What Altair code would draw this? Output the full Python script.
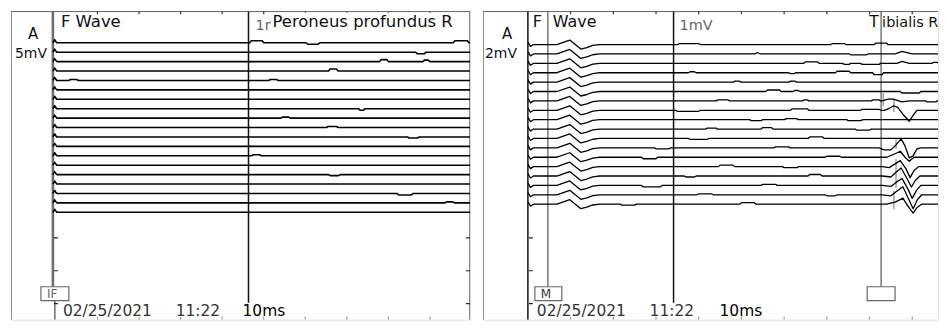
import altair as alt
import pandas as pd

# ---------------- layout ----------------
H = 309
L_W, R_W = 460, 456
L_PX_MS, R_PX_MS = 4.165, 4.28      # px per ms (10 ms / division)
ORIGIN = 45                          # px from panel edge to t = 0
L_DOMAIN = [-ORIGIN / L_PX_MS, (L_W - ORIGIN) / L_PX_MS]
R_DOMAIN = [-ORIGIN / R_PX_MS, (R_W - ORIGIN) / R_PX_MS]

# ---------------- data ----------------
L_TITLE = "Peroneus profundus R"
R_TITLE_A, R_TITLE_B = "T", "ibialis R"
DATE, CLOCK, SWEEP = "02/25/2021", "11:22", "10ms"
L_GAIN, R_GAIN, CAL = "5mV", "2mV", "1mV"
CHANNEL = "A"
EXAM = "Wave"
L_MARK, R_MARK = "IF", "M"

TIME_TICKS = [10, 20, 30, 40, 50, 60, 70, 80, 90]   # ms

L_N, L_BASE0, L_STEP = 19, 31.5, 9.44
R_N, R_BASE0, R_STEP = 18, 33.3, 9.41

# left traces: small deflections (start ms, end ms, offset)
L_BUMPS = {
    0: [(47.0, 49.6, -2.0), (60.6, 63.1, 1.5), (96.0, 99.0, -2.0)],
    1: [(86.9, 88.7, 1.5)],
    2: [(78.3, 79.6, -2.0), (88.7, 89.6, -1.5)],
    3: [(66.0, 67.5, -2.0)],
    4: [(3.5, 5.0, -1.0), (51.6, 53.1, -1.0)],
    7: [(73.2, 74.0, 1.5)],
    8: [(54.5, 56.0, -1.0)],
    9: [(65.5, 67.5, -1.0)],
    10: [(85.0, 87.0, 1.0)],
    12: [(47.5, 49.0, -1.0)],
    14: [(66.0, 68.0, 1.0)],
    16: [(82.5, 85.5, 1.5)],
    17: [(94.0, 95.5, -1.0)],
}

# right traces
ART_T, ART_V = [0.0, 0.6, 1.3], [-2.5, 2.0, 0.0]
MW_T = [6.8, 9.8, 12.4, 13.8, 15.2, 16.8]
MW_V = [0.0, -4.5, 4.5, 3.0, 0.8, 0.0]

R_BUMPS = {
    0: [(35.5, 40.0, -1.0), (71.3, 74.1, -1.0), (81.5, 83.9, -1.5)],
    1: [(53.5, 54.0, -1.0), (75.7, 79.2, 1.0)],
    2: [(65.0, 67.8, -1.5), (74.1, 75.2, 1.0), (78.3, 82.2, 1.0), (95.0, 95.8, -1.0)],
    3: [(38.0, 39.0, -1.0), (61.5, 62.3, 1.0), (72.4, 75.2, -1.5), (81.1, 82.9, 2.0)],
    4: [(48.5, 49.5, -1.0), (61.5, 62.5, -1.0)],
    5: [(56.1, 58.9, -1.5), (62.5, 63.3, -1.0), (87.6, 91.6, 1.5)],
    6: [(44.5, 46.8, -1.0), (64.7, 65.4, -1.0), (80.8, 82.2, -1.0), (93.5, 95.5, 1.0)],
    7: [(35.0, 40.0, 1.0), (61.9, 65.4, -1.5), (78.3, 82.2, -1.0)],
    8: [(52.3, 54.6, 1.0), (60.5, 62.9, -1.0), (75.0, 78.0, 1.0)],
    9: [(42.0, 44.0, -1.0), (55.0, 57.0, -1.5), (77.0, 80.0, 1.0)],
    10: [(38.0, 42.0, 1.0), (66.0, 69.0, -1.5)],
    11: [(30.0, 33.0, 1.0), (58.0, 61.0, -1.0)],
    12: [(27.0, 30.0, 1.5), (70.0, 73.0, -1.0)],
    13: [(45.0, 48.0, -1.5), (60.0, 63.0, 1.0)],
    14: [(37.0, 39.0, 1.0), (66.0, 68.5, -1.5)],
    15: [(27.0, 31.0, 1.5), (55.0, 58.0, -1.0)],
    16: [(40.0, 43.0, -1.0), (70.0, 72.0, 1.0)],
    17: [(22.0, 25.0, 1.0), (50.0, 53.0, -1.5)],
}

# late responses (F waves): (ms, offset)
R_FWAVE = {
    1: [(86.0, 0), (87.6, -2.5), (89.0, -1.0), (90.0, 0)],
    2: [(86.4, 0), (87.6, -2.0), (89.3, 0)],
    6: [(82.9, 0), (84.6, -2.0), (85.7, -1.5), (87.6, 1.0), (89.3, 0)],
    7: [(83.5, 0), (84.6, -2.0), (85.7, -4.5), (86.6, -3.0), (88.0, 5.0), (89.3, 11.0), (90.2, 5.0), (91.1, 0)],
    11: [(82.2, 0), (83.4, 2.0), (85.0, 2.0), (86.2, -3.0), (87.4, -9.0), (88.3, -2.0), (89.3, 10.0), (90.2, 8.0), (91.1, 1.0), (92.0, 0)],
    12: [(84.0, 0), (85.7, -3.0), (87.2, -6.0), (88.3, 0), (89.3, 4.0), (90.4, 0)],
    13: [(83.0, 0), (84.6, 1.0), (85.7, -2.0), (87.2, -6.0), (88.5, 2.0), (89.5, 11.0), (90.4, 4.0), (91.5, 0)],
    14: [(83.0, 0), (85.0, 1.0), (86.0, -3.0), (87.4, -8.0), (88.7, 2.0), (89.8, 11.0), (90.8, 4.0), (91.8, 0)],
    15: [(83.0, 0), (85.0, 1.0), (86.2, -3.0), (87.6, -7.0), (88.9, 3.0), (90.0, 13.0), (91.0, 5.0), (92.0, 0)],
    16: [(83.0, 0), (85.0, 1.0), (86.2, -3.0), (87.8, -8.0), (89.0, 3.0), (90.2, 14.0), (91.2, 5.0), (92.2, 0)],
    17: [(84.0, 0), (86.0, -2.0), (87.8, -6.0), (89.0, 2.0), (90.2, 9.0), (91.2, 3.0), (92.2, 0)],
}

# latency markers on the right panel: (ms, panel y from, panel y to)
R_LAT = [(83.2, 82, 95), (85.7, 87, 101), (86.2, 128, 138), (86.2, 148, 177), (85.7, 180, 198)]


def bump_points(bumps):
    pts = []
    for t1, t2, d in bumps:
        pts += [(t1 - 0.4, 0.0), (t1, d), (t2, d), (t2 + 0.4, 0.0)]
    return pts


rows = []
for i in range(L_N):
    base = L_BASE0 + i * L_STEP
    pts = [(-0.72, 0.0), (-0.3, -3.0), (0.2, 0.0)] + bump_points(L_BUMPS.get(i, [])) + [(L_DOMAIN[1], 0.0)]
    for t, d in pts:
        rows.append({"trace": i, "t": t, "y": base + d})
left_traces = pd.DataFrame(rows)

rows = []
for i in range(R_N):
    base = R_BASE0 + i * R_STEP
    pts = list(zip(ART_T, ART_V)) + list(zip(MW_T, MW_V)) + bump_points(R_BUMPS.get(i, [])) \
        + R_FWAVE.get(i, []) + [(R_DOMAIN[1] + 1, 0.0)]
    for t, d in pts:
        rows.append({"trace": i, "t": t, "y": base + d})
right_traces = pd.DataFrame(rows)


def lx(px):
    return (px - 55) / L_PX_MS


def rx(px):
    return (px - 528) / R_PX_MS


def py(p):
    return p - 10


BOX_TOP, BOX_BOT = 286, 300
CUR_END = 302
TXT_BASE = 315
MARK_BASE = 297.5

# ---- left decorations
l_vrules = pd.DataFrame([
    {"x": L_DOMAIN[0], "y": 0, "y2": H, "c": "#555555", "w": 1.2},
    {"x": L_DOMAIN[1], "y": 0, "y2": H, "c": "#333333", "w": 1.2},
    {"x": lx(52), "y": 0, "y2": py(BOX_TOP), "c": "#6e6e6e", "w": 2.6},
    {"x": lx(54), "y": py(BOX_BOT), "y2": H, "c": "#222222", "w": 1.0},
    {"x": lx(248), "y": 0, "y2": py(CUR_END), "c": "#111111", "w": 1.5},
] + [{"x": t, "y": 0, "y2": 3, "c": "#333333", "w": 1.2} for t in TIME_TICKS]
  + [{"x": t, "y": H - 3, "y2": H, "c": "#999999", "w": 1.2} for t in TIME_TICKS])
l_hrules = pd.DataFrame([
    {"x": L_DOMAIN[0], "x2": L_DOMAIN[1], "y": 0, "c": "#444444", "w": 1.2},
] + [{"x": lx(53), "x2": lx(57), "y": py(v), "c": "#222222", "w": 1.2} for v in (237, 270, 303)]
  + [{"x": lx(466), "x2": lx(470), "y": py(v), "c": "#222222", "w": 1.2} for v in (237, 270, 303)])
l_rects = pd.DataFrame([
    {"x": lx(271), "x2": lx(468), "y": py(12), "y2": py(28), "s": "white"},
    {"x": lx(40), "x2": lx(68), "y": py(BOX_TOP), "y2": py(BOX_BOT), "s": "#666666"},
])
l_cal = pd.DataFrame([{"text": CAL, "x": lx(255), "y": py(29), "fs": 14.5, "c": "#666666"}])
l_text = pd.DataFrame([
    {"text": "F " + EXAM, "x": lx(60), "y": py(26), "fs": 16.5, "c": "#111111"},
    {"text": L_TITLE, "x": lx(272), "y": py(26), "fs": 16.5, "c": "#111111"},
    {"text": CHANNEL, "x": lx(27), "y": py(38), "fs": 15, "c": "#111111"},
    {"text": L_GAIN, "x": lx(14), "y": py(57), "fs": 14, "c": "#111111"},
    {"text": L_MARK, "x": lx(46), "y": py(MARK_BASE), "fs": 12, "c": "#666666"},
    {"text": DATE, "x": lx(62), "y": py(TXT_BASE), "fs": 15.5, "c": "#333333"},
    {"text": CLOCK, "x": lx(175), "y": py(TXT_BASE), "fs": 15.5, "c": "#333333"},
    {"text": SWEEP, "x": lx(242), "y": py(TXT_BASE), "fs": 15.5, "c": "#000000"},
])

# ---- right decorations
r_vrules = pd.DataFrame([
    {"x": R_DOMAIN[0], "y": 0, "y2": H, "c": "#555555", "w": 1.2},
    {"x": 0, "y": 0, "y2": H, "c": "#111111", "w": 1.5},
    {"x": rx(548), "y": 0, "y2": py(BOX_TOP), "c": "#777777", "w": 1.5},
    {"x": rx(674), "y": 0, "y2": py(CUR_END), "c": "#111111", "w": 1.5},
    {"x": rx(882), "y": 0, "y2": py(BOX_TOP), "c": "#777777", "w": 1.5},
] + [{"x": t, "y": 0, "y2": 3, "c": "#333333", "w": 1.2} for t in TIME_TICKS]
  + [{"x": t, "y": H - 3, "y2": H, "c": "#999999", "w": 1.2} for t in TIME_TICKS]
  + [{"x": t, "y": a, "y2": b, "c": "#888888", "w": 1.2} for t, a, b in R_LAT])
r_hrules = pd.DataFrame([
    {"x": R_DOMAIN[0], "x2": R_DOMAIN[1], "y": 0, "c": "#444444", "w": 1.2},
] + [{"x": rx(529), "x2": rx(533), "y": py(v), "c": "#222222", "w": 1.2} for v in (237, 270, 303)])
r_rects = pd.DataFrame([
    {"x": rx(535), "x2": rx(562), "y": py(BOX_TOP), "y2": py(BOX_BOT), "s": "#666666"},
    {"x": rx(868), "x2": rx(896), "y": py(BOX_TOP), "y2": py(BOX_BOT), "s": "#666666"},
])
r_cal = pd.DataFrame([{"text": CAL, "x": rx(680), "y": py(29), "fs": 14.5, "c": "#666666"}])
r_text = pd.DataFrame([
    {"text": "F", "x": rx(533), "y": py(26), "fs": 16, "c": "#111111"},
    {"text": EXAM, "x": rx(553), "y": py(26), "fs": 16, "c": "#111111"},
    {"text": R_TITLE_A, "x": rx(870), "y": py(26), "fs": 15.5, "c": "#111111"},
    {"text": R_TITLE_B, "x": rx(883), "y": py(26), "fs": 14.5, "c": "#111111"},
    {"text": CHANNEL, "x": rx(502), "y": py(38), "fs": 15, "c": "#111111"},
    {"text": R_GAIN, "x": rx(485), "y": py(57), "fs": 14, "c": "#111111"},
    {"text": R_MARK, "x": rx(541), "y": py(MARK_BASE), "fs": 12, "c": "#333333"},
    {"text": DATE, "x": rx(537), "y": py(TXT_BASE), "fs": 15.5, "c": "#333333"},
    {"text": CLOCK, "x": rx(650), "y": py(TXT_BASE), "fs": 15.5, "c": "#333333"},
    {"text": SWEEP, "x": rx(720), "y": py(TXT_BASE), "fs": 15.5, "c": "#000000"},
])

FONT = "DejaVu Sans"


def panel(traces, vr, hr, rects, cal, texts, width, domain, trace_w):
    xs = alt.Scale(domain=domain, nice=False, zero=False)
    ys = alt.Scale(domain=[0, H], nice=False, zero=False, reverse=True)
    X = lambda f: alt.X(f, type="quantitative", scale=xs, axis=None)
    Y = lambda f: alt.Y(f, type="quantitative", scale=ys, axis=None)
    col = alt.Color("c:N", scale=None)
    sw = alt.StrokeWidth("w:Q", scale=None)

    v = alt.Chart(vr).mark_rule(clip=True).encode(x=X("x"), y=Y("y"), y2="y2", color=col, strokeWidth=sw)
    h = alt.Chart(hr).mark_rule(clip=True).encode(x=X("x"), x2="x2", y=Y("y"), color=col, strokeWidth=sw)
    tr = alt.Chart(traces).mark_line(color="#000000", strokeWidth=trace_w, clip=True,
                                     strokeJoin="round").encode(
        x=X("t"), y=Y("y"), detail="trace:N")
    c = alt.Chart(cal).mark_text(align="left", baseline="alphabetic", font=FONT, clip=True).encode(
        x=X("x"), y=Y("y"), text="text:N", size=alt.Size("fs:Q", scale=None), color=col)
    r = alt.Chart(rects).mark_rect(fill="white", strokeWidth=1.2, clip=True).encode(
        x=X("x"), x2="x2", y=Y("y"), y2="y2", stroke=alt.Stroke("s:N", scale=None))
    t = alt.Chart(texts).mark_text(align="left", baseline="alphabetic", font=FONT, clip=True).encode(
        x=X("x"), y=Y("y"), text="text:N", size=alt.Size("fs:Q", scale=None), color=col)
    return alt.layer(v, h, tr, c, r, t).properties(width=width, height=H)


left = panel(left_traces, l_vrules, l_hrules, l_rects, l_cal, l_text, L_W, L_DOMAIN, 1.6)
right = panel(right_traces, r_vrules, r_hrules, r_rects, r_cal, r_text, R_W, R_DOMAIN, 1.3)

chart = alt.hconcat(left, right, spacing=13, bounds="flush").properties(
    padding={"left": 2, "top": 2, "right": 0, "bottom": 0}
).configure_view(stroke=None).configure(background="white")

chart.save("out.html", embed_options={"renderer": "svg", "actions": False})
